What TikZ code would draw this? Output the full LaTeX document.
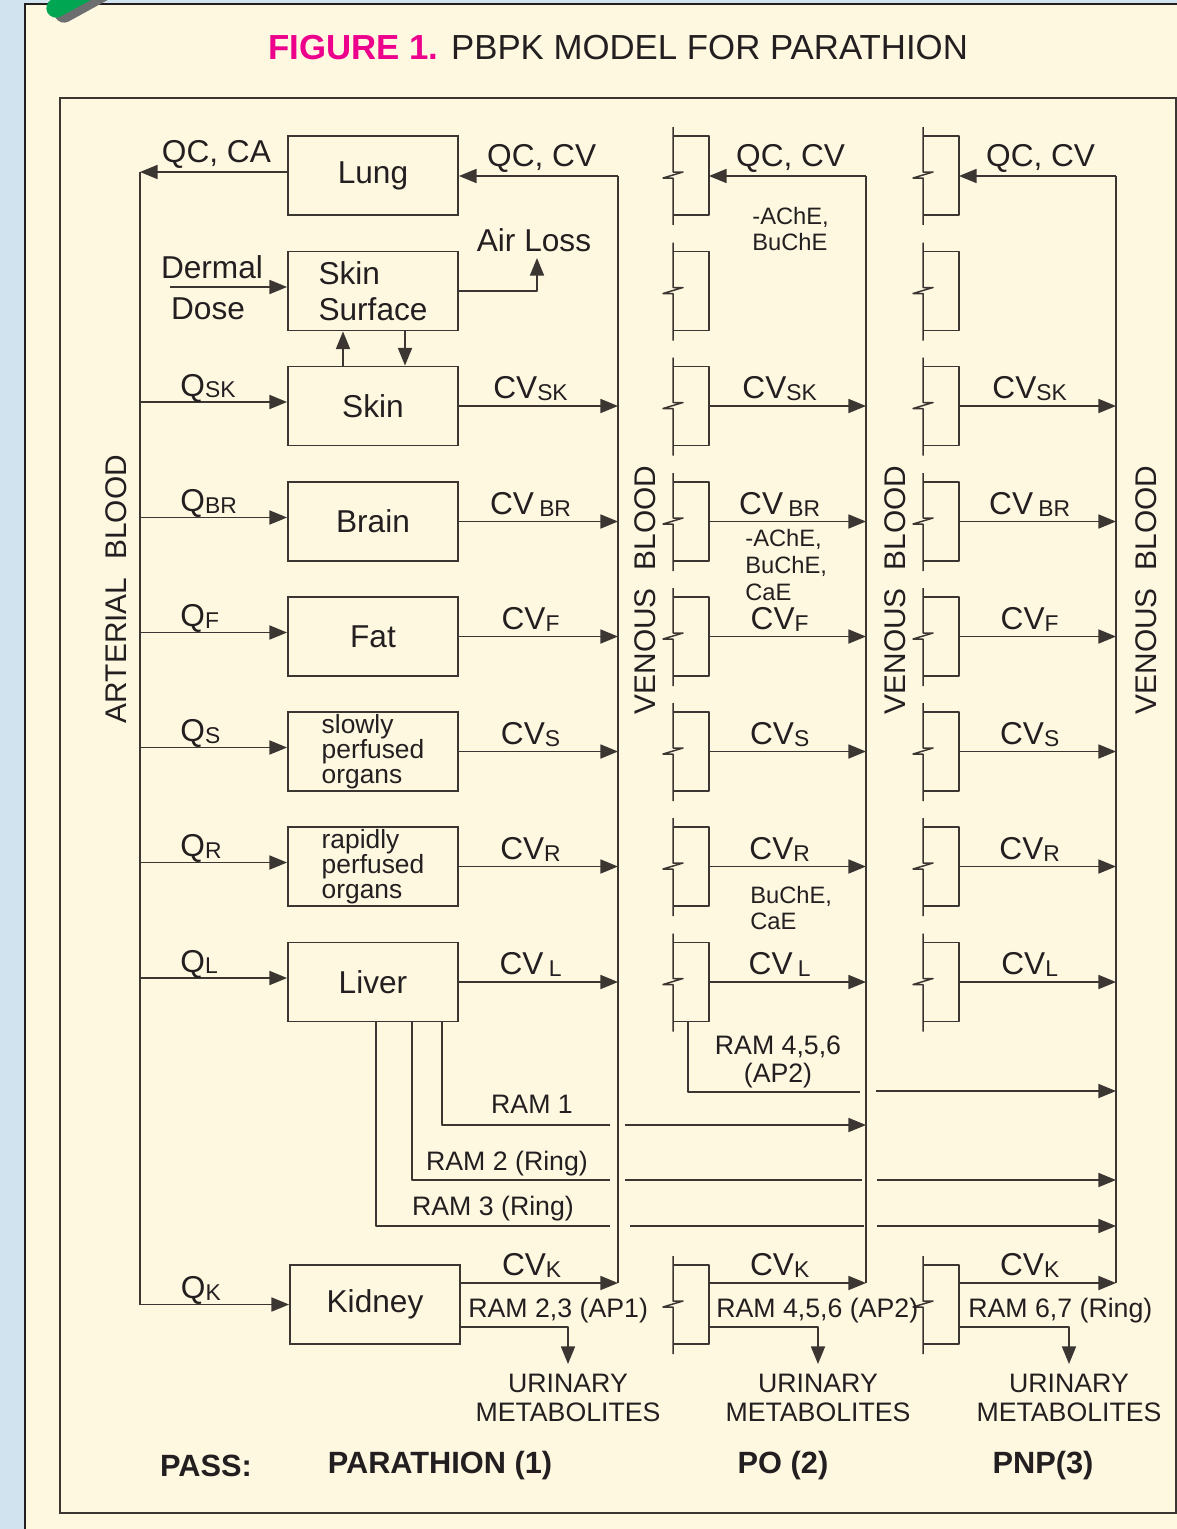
\documentclass[tikz,border=0pt]{standalone}
\usepackage{fontspec}
\setmainfont{Liberation Sans}
\usepackage{xcolor}
\usepackage{tikz}
\usetikzlibrary{arrows.meta,positioning,calc}

\definecolor{paleblue}{HTML}{D0E3EF}
\definecolor{cream}{HTML}{FEF8E1}
\definecolor{ink}{HTML}{231F20}
\definecolor{wire}{HTML}{3B3632}
\definecolor{figpink}{HTML}{EC008C}
\definecolor{clipgreen}{HTML}{00A651}
\definecolor{clipgrey}{HTML}{6D6E70}
\newcommand{\subtx}[1]{{\fontsize{13}{13}\selectfont\raisebox{-1pt}{#1}}}

\begin{document}
\begin{tikzpicture}[
x=0.02cm,
y=-0.02cm,
every node/.style={font=\fontsize{18}{20.5}\selectfont,text=ink,inner sep=0pt},
organ/.style={rectangle,draw=wire,line width=1.1pt,minimum width=3.4cm,minimum height=1.58cm,align=left},
organtxt/.style={font=\fontsize{15}{14.4}\selectfont},
brk/.style={rectangle,minimum width=0.72cm,minimum height=1.58cm,outer sep=0pt},
ln/.style={draw=wire,line width=0.85pt,line join=round},
arr/.style={ln,-{Triangle[length=10pt,width=8pt]}},
qlab/.style={pos=0.27,anchor=base west,yshift=3.4pt},
cvlab/.style={pos=0.45,anchor=base,yshift=4pt},
toplab/.style={pos=0.48,anchor=base,yshift=5.3pt},
chem/.style={font=\fontsize{13.5}{15.3}\selectfont,align=left},
ram/.style={font=\fontsize{15.2}{16.4}\selectfont,align=center},
vlab/.style={rotate=90,font=\fontsize{17}{20}\selectfont},
pass/.style={font=\bfseries\fontsize{17.5}{20}\selectfont}
]
\useasboundingbox (0,0) rectangle (1177,1529);
\clip (0,0) rectangle (1177,1529);
\fill[paleblue] (0,0) rectangle (1177,1529);
\draw[draw=ink,line width=1.3pt,fill=cream] (25,4) rectangle (1220,1560);
\draw[clipgrey,line width=11pt,line cap=round] (64,13) -- (124,-20);
\draw[clipgreen,line width=11pt,line cap=round] (56,8) -- (116,-25);
\draw[wire,line width=0.8pt] (60,98) rectangle (1176,1513);

\node (title) at (618,48) {\fontsize{19.8}{24}\selectfont{\bfseries\color{figpink}FIGURE 1.} PBPK MODEL FOR PARATHION};

\node[organ] (lung) at (373,175.5) {Lung};
\node[organ] (surf) at (373,291) {Skin\\Surface};
\node[organ] (skin) at (373,406) {Skin};
\node[organ] (brain) at (373,521.5) {Brain};
\node[organ] (fat) at (373,636.5) {Fat};
\node[organ,organtxt] (slow) at (373,751.5) {slowly\\perfused\\organs};
\node[organ,organtxt] (rapid) at (373,866.5) {rapidly\\perfused\\organs};
\node[organ] (liver) at (373,982) {Liver};
\node[organ] (kidney) at (375,1304.5) {Kidney};

\coordinate (art) at (140,172);
\coordinate (ven1) at (618,176);
\coordinate (ven2) at (866,176);
\coordinate (ven3) at (1116,176);
\coordinate (dose) at (170,287);
\coordinate (air) at (537,258);
\coordinate (ram1) at (442,1125);
\coordinate (ram2) at (412,1180);
\coordinate (ram3) at (376,1226);
\coordinate (ram4) at (688,1092);
\coordinate (uri1) at (568,1364);
\coordinate (uri2) at (818,1364);
\coordinate (uri3) at (1069,1364);

\foreach \n/\y in {lung/175.5,surf/291,skin/406,brain/521.5,fat/636.5,slow/751.5,rapid/866.5,liver/982,kid/1304.5}
  \foreach \c/\x in {po/691,pnp/941} {
    \node[brk] (\c-\n) at (\x,\y) {};
    \draw[ln] ($(\c-\n.north west)+(0,-9)$) -- ($(\c-\n.west)+(0,-3.5)$) -- ++(10,0) -- ++(-20,6) -- ++(10,0) -- ($(\c-\n.south west)+(0,10)$);
    \draw[ln] (\c-\n.north west) -- (\c-\n.north east) -- (\c-\n.south east) -- (\c-\n.south west);
  }

\node[vlab] (artlab) at (116,589) {ARTERIAL\hspace{0.6em}BLOOD};
\node[vlab] (venlab1) at (645,590) {VENOUS\hspace{0.6em}BLOOD};
\node[vlab] (venlab2) at (895,590) {VENOUS\hspace{0.6em}BLOOD};
\node[vlab] (venlab3) at (1146,590) {VENOUS\hspace{0.6em}BLOOD};

\draw[arr] ($(lung.west)+(0,-3.5)$) -- node[toplab] (qcca) {QC, CA} (art);
\draw[ln] (art) -- (art |- kidney.west);
\draw[arr] (ven1) -- node[toplab] (qccv1) {QC, CV} (ven1 -| lung.east);
\draw[arr] (ven2) -- node[toplab] (qccv2) {QC, CV} (ven2 -| po-lung.east);
\draw[arr] (ven3) -- node[toplab] (qccv3) {QC, CV} (ven3 -| pnp-lung.east);
\node[chem,anchor=west] (chem1) at (752,229) {-AChE,\\BuChE};

\draw[arr] (dose) -- (dose -| surf.west);
\node (dermal) at (212,267) {Dermal};
\node (doselab) at (208,309) {Dose};
\draw[arr] (surf.east) -| (air);
\node (airlab) at (534,240) {Air Loss};
\draw[arr] ($(skin.north)+(-30,0)$) -- ($(surf.south)+(-30,0)$);
\draw[arr] ($(surf.south)+(32,0)$) -- ($(skin.north)+(32,0)$);

\foreach \n/\q/\v/\w in {skin/Q\subtx{SK}/CV\subtx{SK}/CV\subtx{SK},
  brain/Q\subtx{BR}/CV\,\subtx{BR}/CV\,\subtx{BR},
  fat/Q\subtx{F}/CV\subtx{F}/CV\subtx{F},
  slow/Q\subtx{S}/CV\subtx{S}/CV\subtx{S},
  rapid/Q\subtx{R}/CV\subtx{R}/CV\subtx{R},
  liver/Q\subtx{L}/CV\,\subtx{L}/CV\subtx{L}} {
  \draw[arr] ($(\n.west -| art)+(0,-4)$) -- node[qlab] (q-\n) {\q} ($(\n.west)+(0,-4)$);
  \draw[arr] (\n.east) -- node[cvlab] (cv-\n) {\v} (\n.east -| ven1);
  \draw[arr] (po-\n.east) -- node[cvlab] (cvpo-\n) {\v} (po-\n.east -| ven2);
  \draw[arr] (pnp-\n.east) -- node[cvlab] (cvpnp-\n) {\w} (pnp-\n.east -| ven3);
}
\node[chem,anchor=west] (chem2) at (745,565) {-AChE,\\BuChE,\\CaE};
\node[chem,anchor=west] (chem3) at (750,908) {BuChE,\\CaE};

\draw[ln] (ram1 |- liver.south) -- (ram1) -- ($(ram1 -| ven1)+(-8,0)$);
\draw[arr] ($(ram1 -| ven1)+(7,0)$) -- (ram1 -| ven2);
\draw[ln] (ram2 |- liver.south) -- (ram2) -- ($(ram2 -| ven1)+(-8,0)$);
\draw[ln] ($(ram2 -| ven1)+(7,0)$) -- ($(ram2 -| ven2)+(-4,0)$);
\draw[arr] ($(ram2 -| ven2)+(11,0)$) -- (ram2 -| ven3);
\draw[ln] (ram3 |- liver.south) -- (ram3) -- ($(ram3 -| ven1)+(-8,0)$);
\draw[ln] ($(ram3 -| ven1)+(12,0)$) -- ($(ram3 -| ven2)+(-2,0)$);
\draw[arr] ($(ram3 -| ven2)+(11,0)$) -- (ram3 -| ven3);
\draw[ln] (ram4 |- po-liver.south) -- (ram4) -- ($(ram4 -| ven2)+(-6,0)$);
\draw[arr] ($(ram4 -| ven2)+(10,-1)$) -- ($(ram4 -| ven3)+(0,-1)$);
\node[ram] (ram1lab) at (532,1104) {RAM 1};
\node[ram] (ram2lab) at (507,1164) {RAM 2 (Ring)};
\node[ram] (ram3lab) at (493,1209) {RAM 3 (Ring)};
\node[ram] (ram4lab) at (778,1062) {RAM 4,5,6\\(AP2)};

\draw[arr] (kidney.west -| art) -- node[qlab] (q-kidney) {Q\subtx{K}} (kidney.west);
\foreach \k/\v/\u in {kidney/ven1/uri1,po-kid/ven2/uri2,pnp-kid/ven3/uri3} {
  \draw[ln] (\v) -- ($(\k.east -| \v)+(0,-21.5)$);
  \draw[arr] ($(\k.east)+(0,-21.5)$) -- node[cvlab] (cv-\k) {CV\subtx{K}} ($(\k.east -| \v)+(0,-21.5)$);
  \draw[arr] ($(\k.east)+(0,22.5)$) -| (\u);
  \node[ram,below=0.2cm of \u] (lab-\u) {URINARY\\METABOLITES};
}
\node[ram,anchor=west] (kram1) at (468,1311) {RAM 2,3 (AP1)};
\node[ram,anchor=west] (kram2) at (716,1311) {RAM 4,5,6 (AP2)};
\node[ram,anchor=west] (kram3) at (968,1311) {RAM 6,7 (Ring)};

\node[pass] (passlab) at (206,1466) {PASS:};
\node[pass] (pass1) at (440,1466) {PARATHION (1)};
\node[pass] (pass2) at (783,1466) {PO (2)};
\node[pass] (pass3) at (1043,1466) {PNP(3)};
\end{tikzpicture}
\end{document}
